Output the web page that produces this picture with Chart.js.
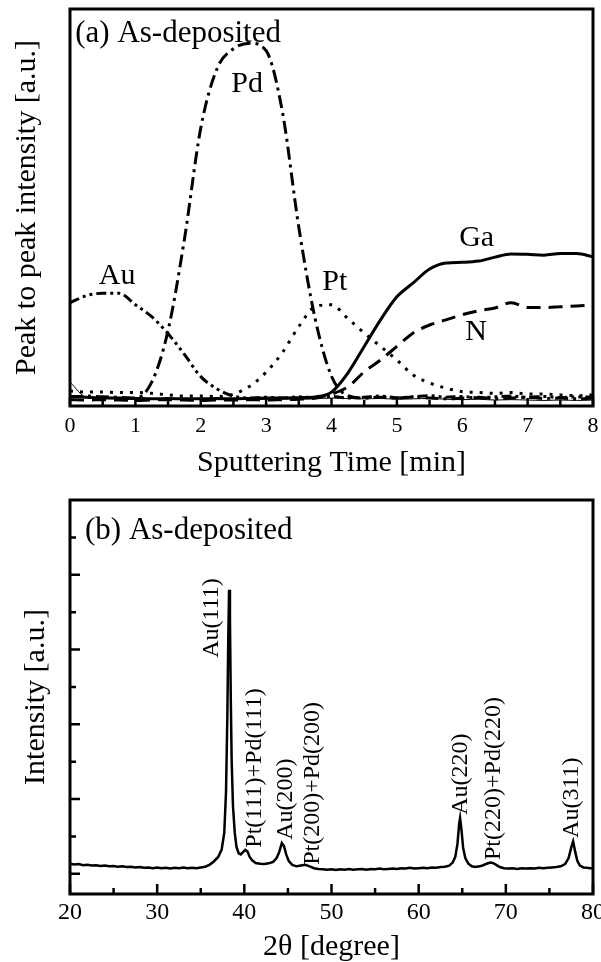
<!DOCTYPE html>
<html>
<head>
<meta charset="utf-8">
<script src="https://cdn.jsdelivr.net/npm/chart.js@4.4.1/dist/chart.umd.min.js"></script>
<style>
  body { margin: 0; background: #fff; }
  .box { position: absolute; left: 0; width: 601px; height: 481px; }
</style>
</head>
<body>
<div class="box" style="top:0"><canvas id="depth" width="601" height="481"></canvas></div>
<div class="box" style="top:481px"><canvas id="xrd" width="601" height="481"></canvas></div>
<script>
// (a) depth profile, sputtering time in minutes
var sputterTime = [0, 0.25, 0.5, 0.75, 1, 1.25, 1.5, 1.75, 2, 2.25, 2.5, 2.75, 3, 3.25, 3.5, 3.75,
                   4, 4.25, 4.5, 4.75, 5, 5.25, 5.5, 5.75, 6, 6.25, 6.5, 6.75, 7, 7.25, 7.5, 7.75, 8];
var pdSignal = [2.3, 2.5, 2.3, 2.2, 2.0, 6, 19, 42, 70, 85, 90, 91.4, 89.5, 74, 45, 22,
                7.5, 2.6, 2.0, 2.2, 2.0, 2.3, 2.0, 1.8, 2.0, 2.2, 1.8, 2.0, 2.2, 1.9, 2.0, 1.8, 2.0];
var auSignal = [26, 27.8, 28.4, 28.4, 25.5, 22.5, 18.2, 13, 7.4, 4.3, 2.5, 2.0, 2.2, 2.0, 2.3, 2.1,
                2.4, 2.0, 2.2, 2.5, 2.1, 2.3, 2.6, 2.2, 2.4, 2.1, 2.3, 2.5, 2.2, 2.4, 2.1, 2.3, 2.2];
var ptSignal = [3.8, 3.5, 3.5, 3.4, 3.4, 3.2, 2.8, 2.5, 2.5, 2.4, 3.0, 5.0, 8.5, 13.5, 20, 25,
                25.5, 22, 18.4, 15, 11.6, 7.8, 5.8, 4.5, 3.6, 3.4, 3.2, 3.4, 3.0, 3.0, 2.8, 2.6, 2.8];
var gaSignal = [2.4, 2.2, 2.0, 2.0, 1.9, 1.8, 1.9, 1.8, 1.8, 1.9, 1.8, 1.9, 2.0, 2.0, 2.1, 2.3,
                3.5, 8.3, 15, 21.7, 27.5, 31, 34.5, 36, 36.2, 36.5, 37.5, 38.3, 38.2, 38, 38.4, 38.4, 37.6];
var nSignal = [1.6, 1.5, 1.6, 1.5, 1.4, 1.5, 1.6, 1.5, 1.4, 1.5, 1.5, 1.6, 1.5, 1.6, 1.7, 2.0,
               3.0, 4.8, 8.6, 11.6, 15, 18.4, 20.4, 21.7, 23, 24, 24.7, 26, 24.8, 24.8, 25, 25.2, 25.4];
var thinTrace = [6, 2.2, 1.9, 1.8, 1.7, 1.8, 1.7, 1.6, 1.7, 1.6, 1.7, 1.6, 1.7, 1.8, 1.7, 1.8,
                 2.0, 1.9, 1.8, 1.9, 1.7, 1.8, 1.9, 1.7, 1.6, 1.7, 1.5, 1.6, 1.5, 1.4, 1.5, 1.4, 1.5];
var depthLabels = ['(a) As-deposited', 'Pd', 'Au', 'Pt', 'Ga', 'N'];
var depthLabelX = [0.08, 2.71, 0.72, 4.05, 6.22, 6.21];
var depthLabelY = [93.7, 81.1, 32.7, 31.2, 42.3, 18.6];

// (b) XRD pattern
var twoTheta = [20, 20.5, 21, 21.5, 22, 22.5, 23, 23.5, 24, 24.5, 25, 25.5, 26, 26.5, 27, 27.5,
  28, 28.5, 29, 29.5, 30, 30.5, 31, 31.5, 32, 32.5, 33, 33.5, 34, 34.5, 35, 35.5, 36, 36.5, 37,
  37.4, 37.7, 37.9, 38.05, 38.15, 38.25, 38.35, 38.45, 38.55, 38.7, 38.9, 39.1, 39.35, 39.6,
  39.85, 40.1, 40.35, 40.6, 40.9, 41.3, 41.8, 42.3, 42.8, 43.3, 43.7, 44, 44.3, 44.55, 44.8,
  45.1, 45.5, 46, 46.5, 47, 47.5, 48, 48.5, 49, 49.5, 50, 50.5, 51, 51.5, 52, 52.5, 53, 53.5,
  54, 54.5, 55, 55.5, 56, 56.5, 57, 57.5, 58, 58.5, 59, 59.5, 60, 60.5, 61, 61.5, 62, 62.5, 63,
  63.5, 63.9, 64.2, 64.45, 64.65, 64.75, 64.9, 65.1, 65.35, 65.7, 66.1, 66.5, 67, 67.4, 67.8,
  68.2, 68.5, 68.9, 69.3, 69.8, 70.3, 70.8, 71.3, 71.8, 72.3, 72.8, 73.3, 73.8, 74.3, 74.8,
  75.3, 75.8, 76.3, 76.8, 77.2, 77.5, 77.72, 77.95, 78.2, 78.5, 78.9, 79.3, 79.7, 80];
var intensity = [0.27, 0.25, 0.26, 0.23, 0.24, 0.22, 0.23, 0.21, 0.22, 0.2, 0.21, 0.19, 0.2, 0.18,
  0.19, 0.17, 0.18, 0.16, 0.17, 0.15, 0.17, 0.15, 0.16, 0.14, 0.16, 0.15, 0.17, 0.15, 0.16, 0.15,
  0.17, 0.19, 0.24, 0.33, 0.45,
  0.65, 1.1, 2.2, 4.2, 6.2, 7.6, 6.8, 4.6, 3.0, 1.8, 1.1, 0.72, 0.55, 0.52,
  0.58, 0.64, 0.6, 0.46, 0.36, 0.29, 0.27, 0.26, 0.28, 0.32, 0.42, 0.58, 0.82, 0.74, 0.52,
  0.34, 0.24, 0.2, 0.22, 0.24, 0.2, 0.15, 0.13, 0.12, 0.11, 0.12, 0.1, 0.12, 0.11, 0.13, 0.11,
  0.12, 0.13, 0.11, 0.13, 0.12, 0.14, 0.12, 0.13, 0.14, 0.13, 0.15, 0.14, 0.16, 0.14, 0.15,
  0.16, 0.15, 0.17, 0.16, 0.18, 0.19,
  0.22, 0.3, 0.45, 0.8, 1.35, 1.49, 1.2, 0.7, 0.42, 0.27, 0.2, 0.18, 0.2, 0.23, 0.27,
  0.3, 0.29, 0.24, 0.18, 0.15, 0.14, 0.15, 0.13, 0.15, 0.14, 0.15, 0.14, 0.16, 0.15, 0.16,
  0.17, 0.18, 0.2, 0.26, 0.42, 0.7, 0.87, 0.6, 0.35, 0.22, 0.17, 0.16, 0.15, 0.15];
var peakLabels = ['Au(111)', 'Pt(111)+Pd(111)', 'Au(200)', 'Pt(200)+Pd(200)', 'Au(220)', 'Pt(220)+Pd(220)', 'Au(311)'];
var peakLabelX = [36.29, 41.22, 44.78, 47.88, 64.86, 68.64, 77.59];
var peakLabelY = [5.78, 0.70, 0.91, 0.24, 1.58, 0.37, 0.96];

var FONT = '"Liberation Serif", "Times New Roman", serif';

function toPoints(xs, ys) {
    return xs.map(function (x, i) { return {x: x, y: ys[i]}; });
}

// text inside the plot, placed in data units
var textPlugin = {
    id: 'plotText',
    afterDatasetsDraw: function (chart, args, opts) {
        var ctx = chart.ctx, sx = chart.scales.x, sy = chart.scales.y;
        ctx.save();
        ctx.fillStyle = '#000';
        opts.items.forEach(function (it) {
            ctx.save();
            ctx.font = it.size + 'px ' + FONT;
            ctx.translate(sx.getPixelForValue(it.x), sy.getPixelForValue(it.y));
            if (it.rotate) ctx.rotate(-Math.PI / 2);
            ctx.textAlign = it.align;
            ctx.textBaseline = 'middle';
            ctx.fillText(it.text, 0, 0);
            ctx.restore();
        });
        ctx.restore();
    }
};

// box round the plot and inward tick marks
var framePlugin = {
    id: 'frame',
    afterDraw: function (chart, args, o) {
        var ctx = chart.ctx, a = chart.chartArea, sx = chart.scales.x, sy = chart.scales.y;
        ctx.save();
        ctx.strokeStyle = '#000';
        ctx.lineWidth = 2.5;
        ctx.beginPath();
        var i, v, p, len;
        for (i = 0, v = sx.min; v <= sx.max + 1e-9; i++, v = sx.min + i * o.xStep) {
            p = sx.getPixelForValue(v);
            len = (i % 2 === 0) ? o.majorLen : o.minorLen;
            ctx.moveTo(p, a.bottom);
            ctx.lineTo(p, a.bottom - len);
        }
        if (o.yStep) {
            for (i = 0, v = o.yFrom; v <= o.yTo + 1e-9; i++, v = o.yFrom + i * o.yStep) {
                p = sy.getPixelForValue(v);
                len = (i % 2 === 0) ? o.majorLen : o.minorLen;
                ctx.moveTo(a.left, p);
                ctx.lineTo(a.left + len, p);
            }
        }
        ctx.stroke();
        ctx.lineWidth = 3;
        ctx.strokeRect(a.left, a.top, a.right - a.left, a.bottom - a.top);
        ctx.restore();
    }
};

function line(data, dash, width) {
    return {
        data: toPoints(sputterTime, data),
        borderColor: '#000',
        borderWidth: width || 3,
        borderDash: dash,
        borderCapStyle: 'butt',
        pointRadius: 0,
        cubicInterpolationMode: 'monotone',
        fill: false
    };
}

var depthChart = new Chart(document.getElementById('depth'), {
    type: 'line',
    data: {
        datasets: [
            line(thinTrace, [], 1),
            line(gaSignal, []),
            line(nSignal, [14, 8]),
            line(ptSignal, [3, 7]),
            line(auSignal, [10, 4, 3, 4, 3, 4]),
            line(pdSignal, [13, 5, 3, 5])
        ]
    },
    plugins: [textPlugin, framePlugin],
    options: {
        responsive: false,
        animation: false,
        layout: { padding: { left: 0, top: 9, right: 8, bottom: 0 } },
        plugins: {
            legend: { display: false },
            tooltip: { enabled: false },
            plotText: {
                items: depthLabels.map(function (t, i) {
                    return { text: t, x: depthLabelX[i], y: depthLabelY[i], size: i === 0 ? 31 : 30, align: i === 0 ? 'left' : 'center' };
                })
            },
            frame: { xStep: 0.5, majorLen: 8, minorLen: 6 }
        },
        scales: {
            x: {
                type: 'linear', min: 0, max: 8,
                grid: { display: false, drawTicks: false },
                border: { display: false },
                ticks: { stepSize: 1, color: '#000', padding: 7, font: { family: FONT, size: 22 } },
                title: { display: true, text: 'Sputtering Time [min]', color: '#000',
                         padding: { top: 0, bottom: 0 }, font: { family: FONT, size: 30 } },
                afterFit: function (s) { s.height = 75; s.paddingLeft = 0; s.paddingRight = 0; }
            },
            y: {
                min: 0, max: 100,
                grid: { display: false, drawTicks: false },
                border: { display: false },
                ticks: { display: false },
                title: { display: true, text: 'Peak to peak intensity [a.u.]', color: '#000',
                         padding: { top: 9, bottom: 0 }, font: { family: FONT, size: 30 } },
                afterFit: function (s) { s.width = 70; }
            }
        }
    }
});

var xrdChart = new Chart(document.getElementById('xrd'), {
    type: 'line',
    data: {
        datasets: [{
            data: toPoints(twoTheta, intensity),
            borderColor: '#000',
            borderWidth: 2.5,
            pointRadius: 0,
            tension: 0,
            fill: false
        }]
    },
    plugins: [textPlugin, framePlugin],
    options: {
        responsive: false,
        animation: false,
        layout: { padding: { left: 0, top: 19, right: 8, bottom: 0 } },
        plugins: {
            legend: { display: false },
            tooltip: { enabled: false },
            plotText: {
                items: [{ text: '(b) As-deposited', x: 21.72, y: 9.17, size: 31, align: 'left' }].concat(
                    peakLabels.map(function (t, i) {
                        return { text: t, x: peakLabelX[i], y: peakLabelY[i], size: 24, align: 'left', rotate: true };
                    }))
            },
            frame: { xStep: 5, majorLen: 10, minorLen: 6, yFrom: 0, yTo: 9, yStep: 1 }
        },
        scales: {
            x: {
                type: 'linear', min: 20, max: 80,
                grid: { display: false, drawTicks: false },
                border: { display: false },
                ticks: { stepSize: 10, color: '#000', padding: 4, font: { family: FONT, size: 24 } },
                title: { display: true, text: '2θ [degree]', color: '#000',
                         padding: { top: 0, bottom: 0 }, font: { family: FONT, size: 30, lineHeight: 1 } },
                afterFit: function (s) { s.height = 68; s.paddingLeft = 0; s.paddingRight = 0; }
            },
            y: {
                min: -0.54, max: 10,
                grid: { display: false, drawTicks: false },
                border: { display: false },
                ticks: { display: false },
                title: { display: true, text: 'Intensity [a.u.]', color: '#000',
                         padding: { top: 18, bottom: 0 }, font: { family: FONT, size: 30 } },
                afterFit: function (s) { s.width = 70; }
            }
        }
    }
});
</script>
</body>
</html>
